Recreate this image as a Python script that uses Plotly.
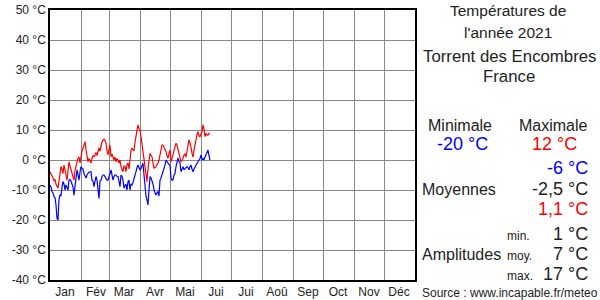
import plotly.graph_objects as go
import pandas as pd

# ---- Data (daily values, 2021-01-01 onward) ----
tmax = [-3.9, -4.5, -5.5, -6, -7, -6.5, -8, -8.5, -9.4, -7,
        -4, -2.2, -3, -4.5, -1.7, -3, -5, -6.7, -3, -0.6,
        -2, -3, -4.4, -5.5, -6.7, -3.5, -1.5, -0.6, 0.5, 1,
        -1, 2.2, 3, 3.9, 5, 6.1, 3.5, 1.7, -0.6, 0.5,
        -0.6, -1, 0.5, 1.5, 1, 1.7, 2.5, 1.5, 3.3, 4,
        3, 5, 6, 6.7, 6.9, 6.5, 5.6, 3, 1.7, 3.5,
        5, 1.1, 2, 1, 0, 1, -0.6, 0.5, 0, -1,
        0, -2.2, -3, -3.9, -2, -2.2, -3.9, -1.5, -1, -3,
        0, 3.3, 3.9, 3.3, 3, 6, 7.8, 10, 11.7, 10.5,
        10, 7.8, 5.5, 3.3, 1, -1.7, -4, -7.2, -3, 0,
        2.2, 1.5, 1.1, -1, -2.8, -2.5, -2.2, -1.5, -1.1, 0,
        1.7, 4.4, 5, 5, 4.4, 3.5, 2.8, 1.5, 0.6, 2,
        3.3, -0.6, 0.5, 1.7, 3.3, 4.5, 5.6, 5, 3.5, 1.7,
        0, -0.6, 0, 0.5, 1.7, 2, 1, 2.8, 4.4, 6.7,
        5.5, 4.4, 2.2, 1, 3.3, 5.5, 7.8, 8.5, 9.4, 8,
        7.8, 8.5, 9.4, 11.7, 10.5, 7.8, 8.9, 8.3, 8.3, 8.9,
        8.9]

tmin = [-8.3, -9, -10.5, -11, -12.2, -12.5, -15, -19.4, -20, -13,
        -11.7, -12, -9, -7.2, -8, -10, -8.3, -9, -10, -6.7,
        -6.5, -7, -8.3, -9, -11.7, -8, -5, -3.3, -5, -6.7,
        -4, -2.2, -2.8, -3, -4.5, -5.5, -6, -5, -4.4, -4,
        -4, -3.9, -6.7, -7, -8.9, -6.5, -5.5, -6.7, -9, -12.8,
        -7, -6.7, -5.5, -5, -5, -5.5, -6, -6.7, -6.7, -5,
        -4.5, -3.3, -5, -6.7, -5.5, -5, -5, -5.5, -5.5, -7,
        -8.9, -5, -5.5, -6.7, -9.4, -8.5, -8, -10, -7.2, -6.7,
        -10, -8, -8.3, -7.5, -6.5, -5, -3.9, -2.5, -1.7, -2.5,
        -3.3, -2.8, -2, -1.1, -5, -10, -12, -13.3, -15, -10,
        -5.5, -6, -7, -8, -10, -11, -11.7, -11, -10.5, -12,
        -6.7, -6, -5, -3.3, -2.5, -1.7, 0, -0.6, -1, -1.5,
        -1.7, -6.1, -6.7, -6.7, -5, -4.5, -2.2, -1, 0.6, -0.5,
        -1, -3.9, -3, -2.2, -3.3, -3, -2.5, -2.2, -2.5, -3.3,
        -2.2, -1.7, -3, -3.9, -3, -2.2, -1.7, -1.1, -0.6, 0,
        0.5, 1.7, 0, 0.5, 0, 1, 2, 2.5, 3.3, 1.5,
        0]

months = ["Jan", "Fév", "Mar", "Avr", "Mai", "Jui", "Jui", "Aoû", "Sep", "Oct", "Nov", "Déc"]
month_starts = [f"2021-{m:02d}-01" for m in range(1, 13)] + ["2022-01-01"]
month_mids = [f"2021-{m:02d}-16" for m in range(1, 13)]
ytick_vals = list(range(-40, 51, 10))

dates = pd.date_range("2021-01-01", periods=len(tmax), freq="D")

FONT = "Liberation Sans, Arial, sans-serif"

fig = go.Figure()
fig.add_trace(go.Scatter(x=dates, y=tmax, mode="lines",
                         line=dict(color="#ff0000", width=1.2), showlegend=False))
fig.add_trace(go.Scatter(x=dates, y=tmin, mode="lines",
                         line=dict(color="#0000ff", width=1.2), showlegend=False))

fig.update_layout(
    width=600, height=300,
    margin=dict(l=50, r=185, t=10, b=20, autoexpand=False),
    paper_bgcolor="white", plot_bgcolor="white",
    font=dict(family=FONT, size=12, color="#222"),
    xaxis=dict(
        type="date", range=["2021-01-01", "2022-01-01"],
        tickmode="array", tickvals=month_mids, ticktext=months,
        showgrid=False, ticks="", ticklen=0, automargin=False,
        showline=True, mirror=True, linecolor="black", linewidth=1.5,
        tickfont=dict(size=12, color="#222"),
        minor=dict(tickmode="array", tickvals=month_starts, showgrid=True,
                   gridcolor="#888888", gridwidth=1, ticks=""),
        zeroline=False, fixedrange=True,
    ),
    yaxis=dict(
        range=[-40, 50], tickmode="array", tickvals=ytick_vals,
        ticktext=[f"{v} °C" for v in ytick_vals],
        showgrid=True, gridcolor="#888888", gridwidth=1, automargin=False,
        showline=True, mirror=True, linecolor="black", linewidth=1.5,
        zeroline=False, ticks="", tickfont=dict(size=12, color="#222"),
        fixedrange=True,
    ),
)

# right-side panel helpers (pixel to paper)
PL, PR, PT, PB = 50, 415, 10, 280
def px(x):
    return (x - PL) / (PR - PL)
def py(y):
    return (PB - y) / (PB - PT)

def txt(text, x, y, size, color="#222", xanchor="center"):
    fig.add_annotation(text=text, x=px(x), y=py(y), xref="paper", yref="paper",
                       xanchor=xanchor, yanchor="middle", showarrow=False,
                       font=dict(family=FONT, size=size, color=color))

txt("Températures de", 508, 11, 15.5)
txt("l'année 2021", 508, 32, 15.5)
txt("Torrent des Encombres", 509, 57, 16.8)
txt("France", 509, 77, 16.8)
txt("Minimale", 460, 125, 16)
txt("Maximale", 553, 125, 16)
txt("-20 °C", 462, 144, 18, color="#0000ff")
txt("12 °C", 554, 144, 18, color="#ff0000")
txt("-6 °C", 590, 168, 18, color="#0000ff", xanchor="right")
txt("Moyennes", 420, 189, 16, xanchor="left")
txt("-2,5 °C", 590, 189, 18, xanchor="right")
txt("1,1 °C", 590, 209, 18, color="#ff0000", xanchor="right")
txt("min.", 505, 236, 12, xanchor="left")
txt("1 °C", 590, 234, 18, xanchor="right")
txt("Amplitudes", 420, 254, 16, xanchor="left")
txt("moy.", 505, 256, 12, xanchor="left")
txt("7 °C", 590, 254, 18, xanchor="right")
txt("max.", 505, 276, 12, xanchor="left")
txt("17 °C", 590, 274, 18, xanchor="right")
txt("Source : www.incapable.fr/meteo", 420, 293, 12, xanchor="left")

fig.write_html("out.html")
